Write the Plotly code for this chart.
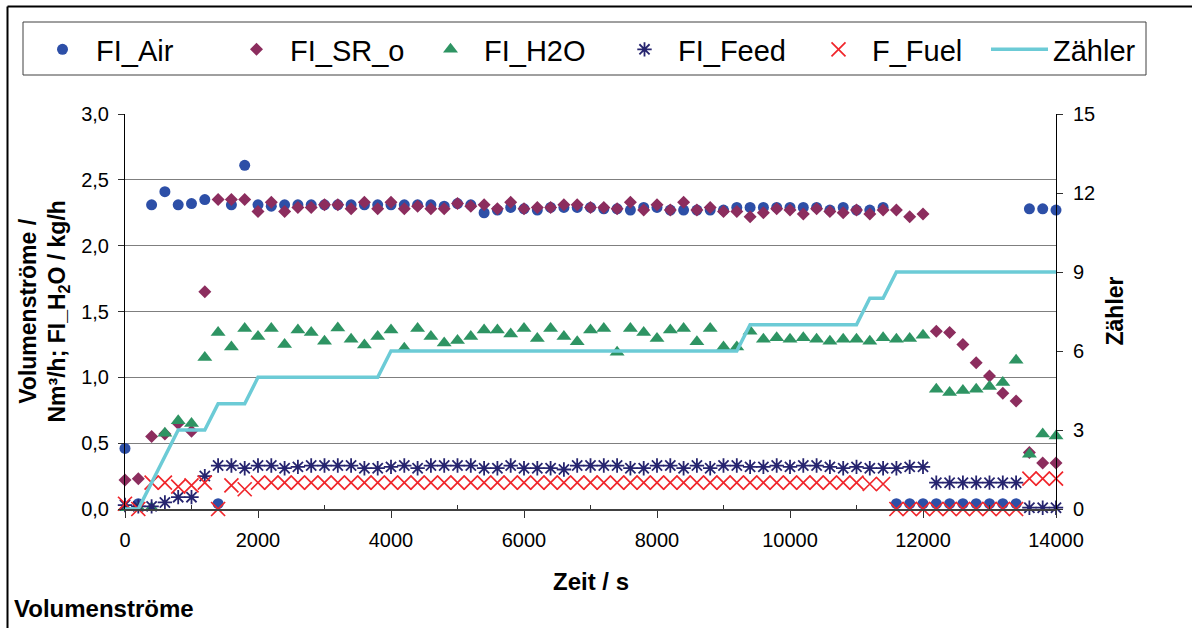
import plotly.graph_objects as go

# ---------------- data ----------------
zeit = [0, 200, 400, 600, 800, 1000, 1200, 1400, 1600, 1800,
        2000, 2200, 2400, 2600, 2800, 3000, 3200, 3400, 3600, 3800,
        4000, 4200, 4400, 4600, 4800, 5000, 5200, 5400, 5600, 5800,
        6000, 6200, 6400, 6600, 6800, 7000, 7200, 7400, 7600, 7800,
        8000, 8200, 8400, 8600, 8800, 9000, 9200, 9400, 9600, 9800,
        10000, 10200, 10400, 10600, 10800, 11000, 11200, 11400, 11600, 11800,
        12000, 12200, 12400, 12600, 12800, 13000, 13200, 13400, 13600, 13800,
        14000]

fi_air = [0.46, 0.04, 2.31, 2.41, 2.31, 2.32, 2.35, 0.04, 2.31, 2.61,
          2.31, 2.30, 2.31, 2.31, 2.31, 2.31, 2.31, 2.31, 2.31, 2.31,
          2.31, 2.31, 2.31, 2.31, 2.30, 2.32, 2.31, 2.25, 2.27, 2.29,
          2.28, 2.27, 2.29, 2.29, 2.29, 2.29, 2.28, 2.28, 2.27, 2.29,
          2.29, 2.27, 2.27, 2.27, 2.27, 2.27, 2.29, 2.29, 2.29, 2.29,
          2.29, 2.29, 2.29, 2.27, 2.29, 2.27, 2.27, 2.29, 0.04, 0.04,
          0.04, 0.04, 0.04, 0.04, 0.04, 0.04, 0.04, 0.04, 2.28, 2.28,
          2.27]

fi_sr_o = [0.22, 0.23, 0.55, 0.57, 0.65, 0.59, 1.65, 2.35, 2.35, 2.35,
           2.26, 2.33, 2.26, 2.29, 2.29, 2.31, 2.31, 2.28, 2.33, 2.28,
           2.33, 2.28, 2.30, 2.28, 2.28, 2.32, 2.30, 2.31, 2.28, 2.33,
           2.28, 2.29, 2.29, 2.31, 2.31, 2.29, 2.29, 2.28, 2.33, 2.27,
           2.31, 2.27, 2.33, 2.27, 2.29, 2.26, 2.26, 2.22, 2.25, 2.28,
           2.27, 2.24, 2.28, 2.26, 2.25, 2.27, 2.24, 2.27, 2.27, 2.22,
           2.24, 1.35, 1.34, 1.25, 1.11, 1.01, 0.88, 0.82, 0.43, 0.35,
           0.35]

fi_h2o = [0.01, 0.01, 0.01, 0.575, 0.67, 0.65, 1.15, 1.34, 1.23, 1.37,
          1.31, 1.37, 1.25, 1.36, 1.34, 1.275, 1.375, 1.29, 1.245, 1.31,
          1.36, 1.22, 1.37, 1.31, 1.26, 1.28, 1.31, 1.36, 1.36, 1.33,
          1.37, 1.295, 1.37, 1.31, 1.27, 1.36, 1.37, 1.19, 1.37, 1.34,
          1.295, 1.36, 1.37, 1.27, 1.37, 1.23, 1.23, 1.35, 1.29, 1.30,
          1.29, 1.30, 1.29, 1.275, 1.29, 1.29, 1.275, 1.30, 1.29, 1.295,
          1.32, 0.91, 0.885, 0.90, 0.91, 0.93, 0.96, 1.13, 0.415, 0.57,
          0.555]

fi_feed = [0.03, 0.02, 0.02, 0.05, 0.09, 0.09, 0.25, 0.33, 0.33, 0.31,
           0.33, 0.33, 0.31, 0.32, 0.33, 0.33, 0.33, 0.33, 0.31, 0.31,
           0.32, 0.33, 0.31, 0.33, 0.33, 0.33, 0.33, 0.31, 0.31, 0.33,
           0.31, 0.31, 0.31, 0.30, 0.33, 0.33, 0.33, 0.33, 0.31, 0.31,
           0.33, 0.33, 0.31, 0.33, 0.31, 0.33, 0.33, 0.32, 0.32, 0.33,
           0.32, 0.33, 0.33, 0.32, 0.31, 0.32, 0.31, 0.31, 0.31, 0.32,
           0.32, 0.20, 0.20, 0.20, 0.20, 0.20, 0.20, 0.20, 0.01, 0.01,
           0.01]

f_fuel = [0.04, 0.00, 0.20, 0.20, 0.17, 0.18, 0.20, 0.00, 0.18, 0.15,
          0.20, 0.20, 0.20, 0.20, 0.20, 0.20, 0.20, 0.20, 0.20, 0.20,
          0.20, 0.20, 0.20, 0.20, 0.20, 0.20, 0.20, 0.20, 0.20, 0.20,
          0.20, 0.20, 0.20, 0.20, 0.20, 0.20, 0.20, 0.20, 0.20, 0.20,
          0.20, 0.20, 0.20, 0.20, 0.20, 0.20, 0.20, 0.20, 0.20, 0.20,
          0.20, 0.20, 0.20, 0.20, 0.20, 0.20, 0.19, 0.19, 0.00, 0.00,
          0.00, 0.00, 0.00, 0.00, 0.00, 0.00, 0.00, 0.00, 0.23, 0.23,
          0.23]

zaehler = [0, 0, 1, 2, 3, 3, 3, 4, 4, 4,
           5, 5, 5, 5, 5, 5, 5, 5, 5, 5,
           6, 6, 6, 6, 6, 6, 6, 6, 6, 6,
           6, 6, 6, 6, 6, 6, 6, 6, 6, 6,
           6, 6, 6, 6, 6, 6, 6, 7, 7, 7,
           7, 7, 7, 7, 7, 7, 8, 8, 9, 9,
           9, 9, 9, 9, 9, 9, 9, 9, 9, 9,
           9]

x_ticks = [0, 2000, 4000, 6000, 8000, 10000, 12000, 14000]
x_tick_text = ["0", "2000", "4000", "6000", "8000", "10000", "12000", "14000"]
x_minor = [1000, 3000, 5000, 7000, 9000, 11000, 13000]
y_ticks = [0, 0.5, 1.0, 1.5, 2.0, 2.5, 3.0]
y_tick_text = ["0,0", "0,5", "1,0", "1,5", "2,0", "2,5", "3,0"]
y2_ticks = [0, 3, 6, 9, 12, 15]
y2_tick_text = ["0", "3", "6", "9", "12", "15"]

FONT = "Liberation Sans, Arial, sans-serif"

# plot-area geometry helpers (pixels -> paper fractions)
L, R, T, B = 125, 136, 114, 119
PW, PH = 1192 - L - R, 628 - T - B


def px(x):
    return (x - L) / PW


def py(y):
    return (628 - B - y) / PH


# ---------------- figure ----------------
fig = go.Figure()

fig.add_trace(go.Scatter(x=zeit, y=fi_air, name="FI_Air", mode="markers", cliponaxis=False,
                         marker=dict(symbol="circle", size=11, color="#2D4FA7")))
fig.add_trace(go.Scatter(x=zeit, y=fi_sr_o, name="FI_SR_o", mode="markers", cliponaxis=False,
                         marker=dict(symbol="diamond", size=10, color="#8C2D5E")))
fig.add_trace(go.Scatter(x=zeit, y=fi_h2o, name="FI_H2O", mode="markers", cliponaxis=False,
                         marker=dict(symbol="triangle-up", size=13, color="#2E9463")))
fig.add_trace(go.Scatter(x=zeit, y=fi_feed, name="FI_Feed", mode="markers", cliponaxis=False,
                         marker=dict(symbol="asterisk-open", size=12, color="#26246F",
                                     line=dict(width=1.8, color="#26246F"))))
fig.add_trace(go.Scatter(x=zeit, y=f_fuel, name="F_Fuel", mode="markers", cliponaxis=False,
                         marker=dict(symbol="x-thin-open", size=14, color="#F0262B",
                                     line=dict(width=1.7, color="#F0262B"))))
fig.add_trace(go.Scatter(x=zeit, y=zaehler, name="Zähler", mode="lines", yaxis="y2",
                         cliponaxis=False, legend="legend2",
                         line=dict(color="#6CCBD6", width=3.5)))

legend_common = dict(
    orientation="h", yanchor="top", y=py(24),
    font=dict(family=FONT, size=29, color="black"),
    borderwidth=0, bgcolor="rgba(0,0,0,0)",
    itemwidth=57, itemsizing="trace",
)

fig.update_layout(
    width=1192, height=628, autosize=False,
    margin=dict(l=L, r=R, t=T, b=B),
    paper_bgcolor="white", plot_bgcolor="white",
    font=dict(family=FONT, color="black", size=20),
    showlegend=True,
    legend=dict(x=px(29), xanchor="left", entrywidth=122, entrywidthmode="pixels",
                **legend_common),
    legend2=dict(x=px(986), xanchor="left", **legend_common),
    xaxis=dict(
        range=[0, 14000], tickmode="array", tickvals=x_ticks, ticktext=x_tick_text,
        ticks="outside", ticklen=7, tickwidth=1, tickcolor="#303030",
        showline=True, linecolor="#404040", linewidth=2,
        showgrid=False, zeroline=False,
        tickfont=dict(family=FONT, size=20, color="black"),
        ticklabelstandoff=5,
        minor=dict(tickmode="array", tickvals=x_minor, ticks="inside", ticklen=4,
                   tickcolor="#303030", showgrid=False),
    ),
    yaxis=dict(
        range=[0, 3], tickmode="array", tickvals=y_ticks, ticktext=y_tick_text,
        ticks="outside", ticklen=6, tickcolor="#303030",
        showline=True, linecolor="black", linewidth=1,
        showgrid=True, gridcolor="#7F7F7F", gridwidth=1, zeroline=False,
        tickfont=dict(family=FONT, size=20, color="black"),
        ticklabelstandoff=5,
    ),
    yaxis2=dict(
        range=[0, 15], overlaying="y", side="right",
        tickmode="array", tickvals=y2_ticks, ticktext=y2_tick_text,
        ticks="outside", ticklen=6, tickcolor="#303030",
        showline=True, linecolor="black", linewidth=1,
        showgrid=False, zeroline=False,
        tickfont=dict(family=FONT, size=20, color="black"),
        ticklabelstandoff=6,
    ),
    annotations=[
        dict(text="Volumenströme /<br>Nm³/h; FI_H<sub>2</sub>O / kg/h", textangle=-90,
             xref="paper", yref="paper", x=px(44), y=0.5, xanchor="center", yanchor="middle",
             showarrow=False, font=dict(family=FONT, size=23, color="black", weight="bold")),
        dict(text="Zähler", textangle=-90,
             xref="paper", yref="paper", x=px(1114), y=0.5, xanchor="center", yanchor="middle",
             showarrow=False, font=dict(family=FONT, size=23, color="black", weight="bold")),
        dict(text="Zeit / s",
             xref="paper", yref="paper", x=px(591), y=py(581), xanchor="center", yanchor="middle",
             showarrow=False, font=dict(family=FONT, size=24, color="black", weight="bold")),
        dict(text="Volumenströme",
             xref="paper", yref="paper", x=px(12), y=py(608), xanchor="left", yanchor="middle",
             showarrow=False, font=dict(family=FONT, size=24, color="black", weight="bold")),
    ],
    shapes=[
        # legend frame
        dict(type="rect", xref="paper", yref="paper",
             x0=px(23), x1=px(1146), y0=py(75), y1=py(22),
             line=dict(color="#404040", width=1), fillcolor="rgba(0,0,0,0)"),
        # outer chart frame (top and left edges visible)
        dict(type="line", xref="paper", yref="paper",
             x0=px(7.5), x1=px(1200), y0=py(6.5), y1=py(6.5),
             line=dict(color="black", width=2)),
        dict(type="line", xref="paper", yref="paper",
             x0=px(7.5), x1=px(7.5), y0=py(6.5), y1=py(640),
             line=dict(color="black", width=2)),
    ],
)

fig.write_html("out.html")
